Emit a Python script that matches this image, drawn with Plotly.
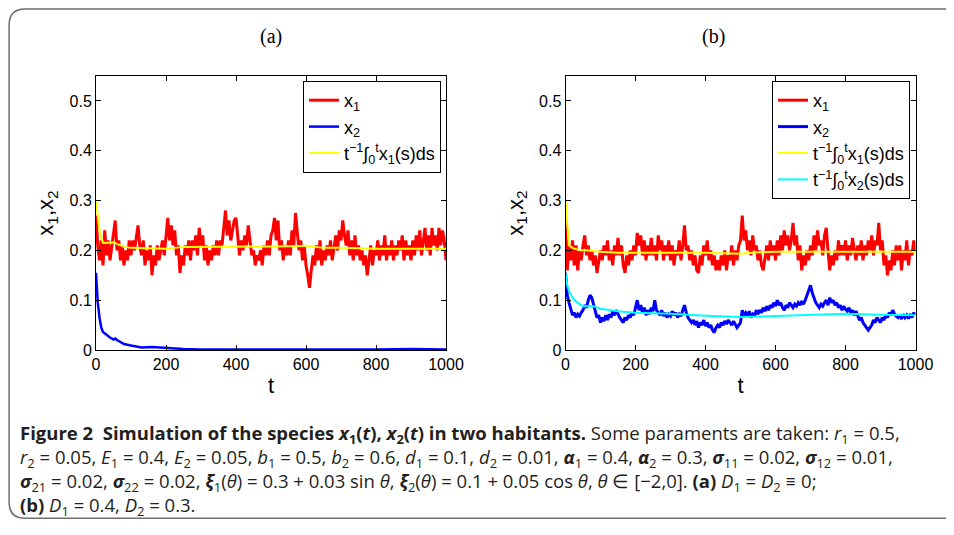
import plotly.graph_objects as go

# ---------------- data ----------------
t_step = list(range(0, 1001, 5))

x1_a = [
    0.27, 0.21, 0.18, 0.22, 0.17, 0.24, 0.19, 0.22, 0.18, 0.21,
    0.24, 0.26, 0.20, 0.22, 0.18, 0.21, 0.17, 0.20, 0.18, 0.22,
    0.19, 0.22, 0.20, 0.23, 0.25, 0.21, 0.19, 0.22, 0.17, 0.20,
    0.18, 0.21, 0.15, 0.19, 0.17, 0.21, 0.18, 0.20, 0.22, 0.19,
    0.23, 0.265, 0.22, 0.25, 0.21, 0.24, 0.19, 0.21, 0.155, 0.19,
    0.17, 0.21, 0.19, 0.22, 0.18, 0.22, 0.20, 0.23, 0.19, 0.245,
    0.21, 0.23, 0.18, 0.21, 0.17, 0.20, 0.18, 0.21, 0.19, 0.22,
    0.19, 0.22, 0.21, 0.25, 0.28, 0.23, 0.26, 0.22, 0.24, 0.26,
    0.265, 0.22, 0.19, 0.22, 0.20, 0.23, 0.21, 0.25, 0.22, 0.19,
    0.20, 0.17, 0.19, 0.18, 0.20, 0.17, 0.21, 0.19, 0.22, 0.19,
    0.23, 0.24, 0.265, 0.22, 0.26, 0.20, 0.22, 0.18, 0.21, 0.19,
    0.22, 0.19, 0.24, 0.21, 0.275, 0.23, 0.20, 0.22, 0.18, 0.21,
    0.17, 0.15, 0.125, 0.16, 0.19, 0.17, 0.21, 0.18, 0.22, 0.17,
    0.20, 0.18, 0.21, 0.19, 0.22, 0.18, 0.21, 0.23, 0.20, 0.24,
    0.22, 0.26, 0.23, 0.21, 0.24, 0.19, 0.22, 0.18, 0.23, 0.19,
    0.21, 0.18, 0.20, 0.17, 0.19, 0.15, 0.18, 0.21, 0.17, 0.20,
    0.19, 0.22, 0.18, 0.21, 0.19, 0.23, 0.18, 0.21, 0.19, 0.22,
    0.18, 0.21, 0.19, 0.22, 0.20, 0.23, 0.18, 0.22, 0.19, 0.21,
    0.18, 0.22, 0.19, 0.23, 0.20, 0.24, 0.19, 0.22, 0.245, 0.20,
    0.23, 0.19, 0.245, 0.21, 0.23, 0.20, 0.245, 0.21, 0.24, 0.22,
    0.18,
]

t_x2_a = [0, 2, 5, 10, 15, 20, 30, 40, 50, 55, 60, 70, 80, 100, 130, 160,
          200, 250, 300, 400, 600, 800, 900, 950, 1000]
x2_a = [0.155, 0.13, 0.095, 0.065, 0.045, 0.036, 0.03, 0.025, 0.021, 0.023,
        0.02, 0.016, 0.012, 0.009, 0.005, 0.006, 0.004, 0.002, 0.001, 0.001,
        0.0, 0.001, 0.002, 0.002, 0.001]

t_avg1_a = [0, 5, 10, 20, 30, 50, 60, 80, 100, 150, 200, 250, 300, 400, 500,
            600, 650, 700, 800, 900, 1000]
avg1_a = [0.30, 0.27, 0.24, 0.215, 0.215, 0.216, 0.213, 0.207, 0.205, 0.204,
          0.203, 0.207, 0.207, 0.208, 0.208, 0.209, 0.205, 0.205, 0.203,
          0.203, 0.203]

x1_b = [
    0.26, 0.16, 0.21, 0.18, 0.22, 0.17, 0.21, 0.16, 0.20, 0.18,
    0.21, 0.23, 0.19, 0.21, 0.18, 0.20, 0.17, 0.19, 0.155, 0.18,
    0.20, 0.18, 0.21, 0.19, 0.22, 0.18, 0.20, 0.17, 0.21, 0.19,
    0.225, 0.19, 0.21, 0.17, 0.155, 0.19, 0.17, 0.20, 0.18, 0.21,
    0.19, 0.235, 0.21, 0.23, 0.19, 0.22, 0.18, 0.21, 0.19, 0.225,
    0.19, 0.21, 0.18, 0.23, 0.20, 0.22, 0.18, 0.21, 0.19, 0.22,
    0.18, 0.21, 0.17, 0.20, 0.19, 0.22, 0.18, 0.21, 0.25, 0.20,
    0.21, 0.18, 0.20, 0.17, 0.19, 0.16, 0.155, 0.19, 0.17, 0.21,
    0.19, 0.22, 0.18, 0.20, 0.17, 0.19, 0.16, 0.18, 0.16, 0.19,
    0.17, 0.20, 0.16, 0.19, 0.18, 0.21, 0.17, 0.20, 0.18, 0.21,
    0.22, 0.27, 0.22, 0.24, 0.20, 0.22, 0.19, 0.23, 0.20, 0.21,
    0.18, 0.20, 0.17, 0.16, 0.19, 0.21, 0.18, 0.22, 0.19, 0.21,
    0.18, 0.22, 0.19, 0.23, 0.20, 0.24, 0.21, 0.23, 0.20, 0.22,
    0.255, 0.21, 0.23, 0.18, 0.21, 0.16, 0.19, 0.17, 0.20, 0.18,
    0.21, 0.19, 0.23, 0.20, 0.24, 0.21, 0.22, 0.19, 0.23, 0.245,
    0.20, 0.16, 0.19, 0.17, 0.20, 0.18, 0.22, 0.19, 0.21, 0.19,
    0.22, 0.18, 0.21, 0.19, 0.225, 0.20, 0.18, 0.21, 0.19, 0.22,
    0.18, 0.21, 0.19, 0.22, 0.20, 0.23, 0.19, 0.22, 0.21, 0.255,
    0.20, 0.22, 0.17, 0.19, 0.15, 0.18, 0.16, 0.20, 0.17, 0.21,
    0.18, 0.21, 0.16, 0.20, 0.18, 0.22, 0.17, 0.20, 0.19, 0.22,
    0.20,
]

x2_b = [
    0.155, 0.11, 0.095, 0.08, 0.07, 0.075, 0.065, 0.072, 0.068, 0.075,
    0.08, 0.09, 0.085, 0.1, 0.11, 0.105, 0.09, 0.08, 0.065, 0.07,
    0.055, 0.065, 0.058, 0.07, 0.06, 0.072, 0.065, 0.078, 0.07, 0.08,
    0.072, 0.065, 0.06, 0.055, 0.065, 0.06, 0.07, 0.065, 0.075, 0.07,
    0.085, 0.1, 0.08, 0.09, 0.075, 0.085, 0.07, 0.08, 0.072, 0.085,
    0.078, 0.1, 0.08, 0.075, 0.07, 0.08, 0.068, 0.075, 0.065, 0.072,
    0.068, 0.078, 0.07, 0.075, 0.065, 0.072, 0.068, 0.08, 0.09, 0.075,
    0.065, 0.06, 0.055, 0.06, 0.05, 0.058, 0.045, 0.055, 0.05, 0.06,
    0.048, 0.055, 0.045, 0.05, 0.04, 0.035, 0.045, 0.05, 0.045, 0.055,
    0.05, 0.058, 0.052, 0.06, 0.055, 0.05, 0.058, 0.05, 0.045, 0.05,
    0.055, 0.08, 0.07, 0.075, 0.068, 0.078, 0.065, 0.072, 0.068, 0.08,
    0.072, 0.08, 0.075, 0.085, 0.078, 0.088, 0.08, 0.09, 0.085, 0.095,
    0.088, 0.1, 0.09, 0.095, 0.085, 0.08, 0.09, 0.085, 0.095, 0.09,
    0.085, 0.092, 0.088, 0.095, 0.09, 0.098, 0.092, 0.1, 0.11, 0.12,
    0.13, 0.115, 0.105, 0.095, 0.09, 0.085, 0.092, 0.088, 0.095, 0.1,
    0.09, 0.105, 0.095, 0.1, 0.09, 0.095, 0.085, 0.09, 0.08, 0.088,
    0.082, 0.078, 0.085, 0.075, 0.08, 0.07, 0.078, 0.068, 0.06, 0.065,
    0.055, 0.05, 0.045, 0.04, 0.045, 0.05, 0.06, 0.055, 0.065, 0.06,
    0.055, 0.065, 0.06, 0.07, 0.065, 0.075, 0.07, 0.08, 0.072, 0.068,
    0.065, 0.07, 0.062, 0.072, 0.065, 0.07, 0.063, 0.072, 0.065, 0.075,
    0.07,
]

t_avg1_b = [0, 5, 10, 20, 40, 60, 100, 150, 200, 300, 400, 500, 550, 600,
            700, 800, 900, 1000]
avg1_b = [0.30, 0.25, 0.21, 0.205, 0.2, 0.2, 0.197, 0.195, 0.195, 0.196,
          0.195, 0.193, 0.196, 0.197, 0.197, 0.198, 0.197, 0.197]

t_avg2_b = [0, 5, 10, 20, 30, 50, 70, 80, 100, 150, 200, 300, 400, 500, 600,
            700, 800, 900, 1000]
avg2_b = [0.155, 0.13, 0.118, 0.105, 0.097, 0.088, 0.088, 0.088, 0.083,
          0.078, 0.075, 0.073, 0.069, 0.066, 0.068, 0.071, 0.073, 0.071, 0.07]

x_ticks = [0, 200, 400, 600, 800, 1000]
y_ticks = [0, 0.1, 0.2, 0.3, 0.4, 0.5]
y_tick_text = ["0", "0.1", "0.2", "0.3", "0.4", "0.5"]

# ---------------- figure ----------------
# The page body has an 8px margin, so the figure is drawn 8px in from the
# window's top-left corner; size it so that the page does not overflow.
OFF = 8
W, H = 954 - 2 * OFF, 535 - 2 * OFF - 8
SANS = "Liberation Sans, Arial, sans-serif"


def sx(xv):
    return (xv - OFF) / W


def sy(yv):
    return 1 - (yv - OFF) / H


fig = go.Figure()


def add(x, y, color, name, xa, ya, leg, width):
    fig.add_trace(go.Scatter(x=x, y=y, mode="lines", name=name,
                             line=dict(color=color, width=width),
                             xaxis=xa, yaxis=ya, legend=leg))


lab_x1 = "x<sub>1</sub>"
lab_x2 = "x<sub>2</sub>"
lab_a1 = "t<sup>−1</sup>∫<sub>0</sub><sup>t</sup>x<sub>1</sub>(s)ds"
lab_a2 = "t<sup>−1</sup>∫<sub>0</sub><sup>t</sup>x<sub>2</sub>(s)ds"

add(t_step, x1_a, "#ff0000", lab_x1, "x", "y", "legend", 3)
add(t_x2_a, x2_a, "#0000ff", lab_x2, "x", "y", "legend", 2.5)
add(t_avg1_a, avg1_a, "#ffff00", lab_a1, "x", "y", "legend", 2)

add(t_step, x1_b, "#ff0000", lab_x1, "x2", "y2", "legend2", 3)
add(t_step, x2_b, "#0000ff", lab_x2, "x2", "y2", "legend2", 3)
add(t_avg1_b, avg1_b, "#ffff00", lab_a1, "x2", "y2", "legend2", 2)
add(t_avg2_b, avg2_b, "#00ffff", lab_a2, "x2", "y2", "legend2", 2)

y_dom = [sy(350), sy(76)]
axis_common = dict(showline=True, linecolor="black", linewidth=1,
                   mirror="ticks", ticks="inside", ticklen=5,
                   tickcolor="black", showgrid=False, zeroline=False,
                   automargin=False,
                   tickfont=dict(family=SANS, size=16, color="black"))

xa = dict(axis_common, range=[0, 1000], tickvals=x_ticks,
          title=dict(text="t", font=dict(family=SANS, size=22, color="black"),
                     standoff=5))
ya = dict(axis_common, range=[0, 0.55], tickvals=y_ticks, ticktext=y_tick_text,
          domain=y_dom,
          title=dict(text="x<sub>1</sub>,x<sub>2</sub>",
                     font=dict(family=SANS, size=22, color="black"),
                     standoff=9))

legend_common = dict(bgcolor="white", bordercolor="black", borderwidth=1,
                     font=dict(family=SANS, size=18, color="black"),
                     xanchor="right", yanchor="top", tracegroupgap=0)

fig.update_layout(
    width=W, height=H, autosize=False,
    margin=dict(l=0, r=0, t=0, b=0, pad=0, autoexpand=False),
    paper_bgcolor="white", plot_bgcolor="white",
    xaxis=dict(xa, domain=[sx(96), sx(446)], anchor="y"),
    yaxis=dict(ya, anchor="x"),
    xaxis2=dict(xa, domain=[sx(565.5), sx(915.5)], anchor="y2"),
    yaxis2=dict(ya, anchor="x2"),
    legend=dict(legend_common, x=sx(441), y=sy(81)),
    legend2=dict(legend_common, x=sx(910), y=sy(81)),
)

# panel titles
for xc, txt in [(271, "(a)"), (713, "(b)")]:
    fig.add_annotation(x=sx(xc), y=sy(37), xref="paper", yref="paper",
                       xanchor="center", yanchor="middle",
                       text=txt, showarrow=False,
                       font=dict(family="Liberation Serif, serif", size=20,
                                 color="black"))

# outer rounded frame: open path (right side lies beyond the window)
r = 16
fx0, fy0, fx1, fy1 = 0.0012, 0.998, 1.02, 0.0015
rx, ry = r / W, r / H
path = (f"M {fx1},{fy0} L {fx0 + rx},{fy0} Q {fx0},{fy0} {fx0},{fy0 - ry} "
        f"L {fx0},{fy1 + ry} Q {fx0},{fy1} {fx0 + rx},{fy1} L {fx1},{fy1}")
fig.add_shape(type="path", path=path, xref="paper", yref="paper",
              line=dict(color="#6e6e6e", width=1.5), layer="below")

# caption (one block, four lines)
CAP = "Open Sans, Lato, sans-serif"
cap_lines = [
    "<b>Figure 2  Simulation of the species <i>x</i><sub>1</sub>(<i>t</i>), "
    "<i>x</i><sub>2</sub>(<i>t</i>) in two habitants.</b> Some paraments are taken: "
    "<i>r</i><sub>1</sub> = 0.5,",
    "<i>r</i><sub>2</sub> = 0.05, <i>E</i><sub>1</sub> = 0.4, <i>E</i><sub>2</sub> = 0.05, "
    "<i>b</i><sub>1</sub> = 0.5, <i>b</i><sub>2</sub> = 0.6, <i>d</i><sub>1</sub> = 0.1, "
    "<i>d</i><sub>2</sub> = 0.01, <b><i>α</i></b><sub>1</sub> = 0.4, "
    "<b><i>α</i></b><sub>2</sub> = 0.3, <b><i>σ</i></b><sub>11</sub> = 0.02, "
    "<b><i>σ</i></b><sub>12</sub> = 0.01,",
    "<b><i>σ</i></b><sub>21</sub> = 0.02, <b><i>σ</i></b><sub>22</sub> = 0.02, "
    "<b><i>ξ</i></b><sub>1</sub>(<i>θ</i>) = 0.3 + 0.03 sin <i>θ</i>, "
    "<b><i>ξ</i></b><sub>2</sub>(<i>θ</i>) = 0.1 + 0.05 cos <i>θ</i>, "
    "<i>θ</i> ∈ [−2,0]. <b>(a)</b> <i>D</i><sub>1</sub> = <i>D</i><sub>2</sub> ≡ 0;",
    "<b>(b)</b> <i>D</i><sub>1</sub> = 0.4, <i>D</i><sub>2</sub> = 0.3.",
]
fig.add_annotation(x=sx(18), y=sy(470), xref="paper", yref="paper",
                   xanchor="left", yanchor="middle",
                   text="<br>".join(cap_lines),
                   showarrow=False, align="left",
                   font=dict(family=CAP, size=18.5, color="#231f20"))

fig.write_html("out.html")
